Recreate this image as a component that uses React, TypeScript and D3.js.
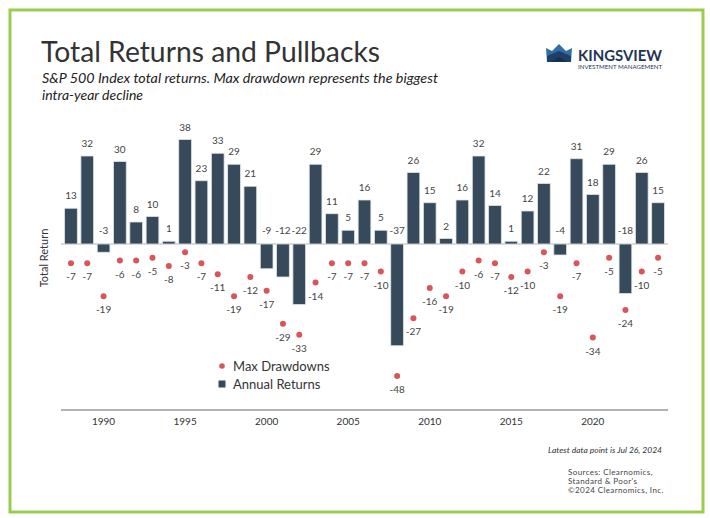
import React from "react";
import * as d3 from "d3";

const years = d3.range(1988, 2025).map(String);
const annualReturns = [13, 32, -3, 30, 8, 10, 1, 38, 23, 33, 29, 21, -9, -12, -22, 29, 11, 5, 16, 5, -37, 26, 15, 2, 16, 32, 14, 1, 12, 22, -4, 31, 18, 29, -18, 26, 15];
const maxDrawdowns = [-7, -7, -19, -6, -6, -5, -8, -3, -7, -11, -19, -12, -17, -29, -33, -14, -7, -7, -7, -10, -48, -27, -16, -19, -10, -6, -7, -12, -10, -3, -19, -7, -34, -5, -24, -10, -5];
const tickYears = ["1990", "1995", "2000", "2005", "2010", "2015", "2020"];
const legendLabels = ["Max Drawdowns", "Annual Returns"];

const BAR = "#374a5c";
const DOT = "#d9555a";
const FONT = "Lato, 'Open Sans', sans-serif";

export default function App() {
  const x = d3.scaleBand<string>().domain(years).range([61, 668]).padding(0.22);
  const y = d3.scaleLinear().domain([-60, 45]).range([409, 120.25]);
  const y0 = y(0);

  return (
    <svg width={710} height={518} style={{ position: "absolute", left: 0, top: 0, background: "#fff" }} fontFamily={FONT}>
      <rect x={0} y={0} width={710} height={518} fill="#fff" />
      <rect x={10} y={10} width={693} height={502} fill="none" stroke="#9ccc4e" strokeWidth={3} />

      <text x={41} y={62} fontSize={28} fill="#333" fontWeight={400} textLength={339} lengthAdjust="spacingAndGlyphs">Total Returns and Pullbacks</text>
      <text x={42} y={83} fontSize={14} fontStyle="italic" fill="#222" textLength={396} lengthAdjust="spacingAndGlyphs">S&amp;P 500 Index total returns. Max drawdown represents the biggest</text>
      <text x={42} y={100} fontSize={14} fontStyle="italic" fill="#222">intra-year decline</text>

      {/* logo */}
      <g>
        <path d="M546,48 L552,51 L559,44 L566,51 L572,48 L571,62 L547,62 Z" fill="#2f6ea6" />
        <path d="M547,56 L559,51 L571,56 L571,62 L547,62 Z" fill="#1f3f66" />
        <path d="M550,62 L559,57 L568,62 Z" fill="#17304f" />
        <text x={578} y={61} fontSize={16} fontWeight={700} fill="#1f3556" textLength={84} lengthAdjust="spacingAndGlyphs">KINGSVIEW</text>
        <text x={578} y={69} fontSize={6} fill="#1f3556" textLength={84} lengthAdjust="spacingAndGlyphs">INVESTMENT MANAGEMENT</text>
      </g>

      <text transform={`translate(48,${y0 + 14}) rotate(-90)`} textAnchor="middle" fontSize={11} fill="#333">Total Return</text>

      <line x1={61} x2={668} y1={y0} y2={y0} stroke="#c8ccd0" strokeWidth={1.5} />

      {years.map((yr, i) => {
        const v = annualReturns[i];
        const bx = x(yr)!;
        const top = Math.min(y(v), y0);
        const h = Math.abs(y(v) - y0);
        const cx = bx + x.bandwidth() / 2;
        const labelY = v >= 0 ? y(v) - 9 : y0 - 10;
        return (
          <g key={yr}>
            <rect x={bx} y={top} width={x.bandwidth()} height={h} fill={BAR} stroke="#dfe3e6" strokeWidth={0.8} />
            <text x={cx} y={labelY} textAnchor="middle" fontSize={10} fill="#444">{v}</text>
          </g>
        );
      })}

      {years.map((yr, i) => {
        const v = maxDrawdowns[i];
        const cx = x(yr)! + x.bandwidth() / 2;
        return (
          <g key={"d" + yr}>
            <circle cx={cx} cy={y(v)} r={3} fill={DOT} />
            <text x={cx} y={y(v) + 17} textAnchor="middle" fontSize={10} fill="#444">{v}</text>
          </g>
        );
      })}

      {/* legend */}
      <circle cx={222} cy={366} r={2.8} fill={DOT} />
      <text x={233} y={371} fontSize={13} fill="#333">{legendLabels[0]}</text>
      <rect x={218.5} y={380.5} width={7} height={7} fill={BAR} />
      <text x={233} y={389} fontSize={13} fill="#333">{legendLabels[1]}</text>

      <line x1={61} x2={668} y1={410} y2={410} stroke="#999" strokeWidth={1.5} />
      {tickYears.map((t) => (
        <text key={t} x={x(t)! + x.bandwidth() / 2} y={425} textAnchor="middle" fontSize={10} fill="#333">{t}</text>
      ))}

      <text x={662} y={453} textAnchor="end" fontSize={8.5} fontStyle="italic" fill="#333">Latest data point is Jul 26, 2024</text>
      <text x={568} y={475} fontSize={8} fill="#444" style={{ letterSpacing: "0.4px" }}>Sources: Clearnomics,</text>
      <text x={568} y={484} fontSize={8} fill="#444" style={{ letterSpacing: "0.4px" }}>Standard &amp; Poor's</text>
      <text x={568} y={493} fontSize={8} fill="#444" style={{ letterSpacing: "0.4px" }}>©2024 Clearnomics, Inc.</text>
    </svg>
  );
}
